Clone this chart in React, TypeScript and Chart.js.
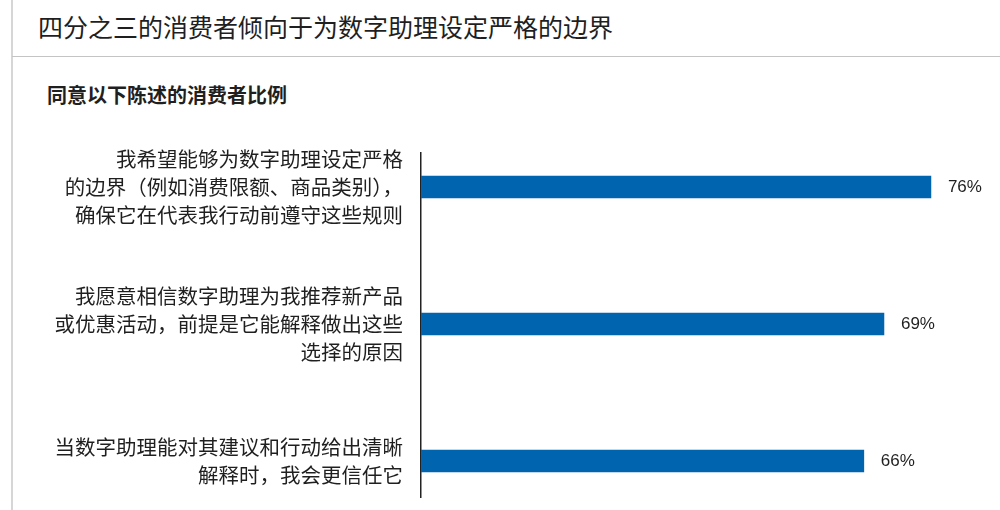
import React, { useEffect, useRef } from "react";
import { Chart, registerables } from "chart.js";

Chart.register(...registerables);

const titleText = "四分之三的消费者倾向于为数字助理设定严格的边界";
const subtitleText = "同意以下陈述的消费者比例";

const categories: string[][] = [
  ["我希望能够为数字助理设定严格", "的边界（例如消费限额、商品类别），", "确保它在代表我行动前遵守这些规则"],
  ["我愿意相信数字助理为我推荐新产品", "或优惠活动，前提是它能解释做出这些", "选择的原因"],
  ["当数字助理能对其建议和行动给出清晰", "解释时，我会更信任它"],
];
const values: number[] = [76, 69, 66];
const categoryIndex: number[] = [0, 1, 2];

const BAR_COLOR = "#0064AE";
const TEXT_COLOR = "#1f1f1f";
const CJK = '"Noto Sans CJK SC", "Noto Sans", sans-serif';

const valueLabelPlugin = {
  id: "valueLabels",
  afterDatasetsDraw(chart: any) {
    const ctx = chart.ctx;
    const meta = chart.getDatasetMeta(0);
    ctx.save();
    ctx.font = '17px "Liberation Sans", Arial, sans-serif';
    ctx.fillStyle = TEXT_COLOR;
    ctx.textAlign = "left";
    ctx.textBaseline = "middle";
    meta.data.forEach((bar: any, i: number) => {
      ctx.fillText(`${values[i]}%`, bar.x + 17, bar.y);
    });
    ctx.restore();
  },
};

export default function App() {
  const canvasRef = useRef<HTMLCanvasElement | null>(null);

  useEffect(() => {
    if (!canvasRef.current) return;
    const chart = new Chart(canvasRef.current, {
      type: "bar",
      data: {
        datasets: [
          {
            data: values.map((v, i) => ({ x: v, y: categoryIndex[i] })),
            backgroundColor: BAR_COLOR,
            borderWidth: 0,
            barThickness: 22,
          },
        ],
      },
      options: {
        indexAxis: "y",
        responsive: false,
        animation: false,
        devicePixelRatio: 1,
        layout: { padding: { top: 153, bottom: 13, left: 0, right: 2 } },
        plugins: {
          legend: { display: false },
          tooltip: { enabled: false },
          title: { display: false },
        },
        scales: {
          x: {
            type: "linear",
            min: 0,
            max: 86,
            display: false,
          },
          y: {
            type: "linear",
            min: -0.248,
            max: 2.263,
            reverse: true,
            offset: false,
            grid: { display: false, drawTicks: false, offset: false },
            border: { display: true, color: "#222", width: 1.5 },
            afterBuildTicks: (scale: any) => {
              scale.ticks = categoryIndex.map((v) => ({ value: v }));
            },
            afterFit: (scale: any) => {
              scale.width = 421;
              scale.paddingTop = 0;
              scale.paddingBottom = 0;
            },
            ticks: {
              autoSkip: false,
              padding: 18,
              color: TEXT_COLOR,
              font: { family: CJK, size: 20.5, lineHeight: 1.37 },
              callback: (value: any) => categories[Number(value)] ?? "",
            },
          },
        },
      } as any,
      plugins: [valueLabelPlugin],
    });
    return () => chart.destroy();
  }, []);

  return (
    <div
      style={{
        position: "absolute",
        left: 0,
        top: 0,
        width: 1000,
        height: 510,
        background: "#fff",
        overflow: "hidden",
      }}
    >
      <div
        style={{
          position: "absolute",
          left: 11,
          top: 0,
          width: 2,
          height: 510,
          background: "#d6d6d6",
        }}
      />
      <div
        style={{
          position: "absolute",
          left: 12,
          top: 56,
          width: 988,
          height: 1,
          background: "#c4c4c4",
        }}
      />
      <div
        style={{
          position: "absolute",
          left: 38,
          top: 13,
          fontFamily: CJK,
          fontSize: 25,
          lineHeight: "26px",
          color: TEXT_COLOR,
          whiteSpace: "nowrap",
        }}
      >
        {titleText}
      </div>
      <div
        style={{
          position: "absolute",
          left: 47,
          top: 84,
          fontFamily: CJK,
          fontSize: 20,
          fontWeight: 700,
          lineHeight: "22px",
          color: TEXT_COLOR,
          whiteSpace: "nowrap",
        }}
      >
        {subtitleText}
      </div>
      <canvas
        ref={canvasRef}
        width={1000}
        height={510}
        style={{ position: "absolute", left: 0, top: 0, width: 1000, height: 510 }}
      />
    </div>
  );
}
